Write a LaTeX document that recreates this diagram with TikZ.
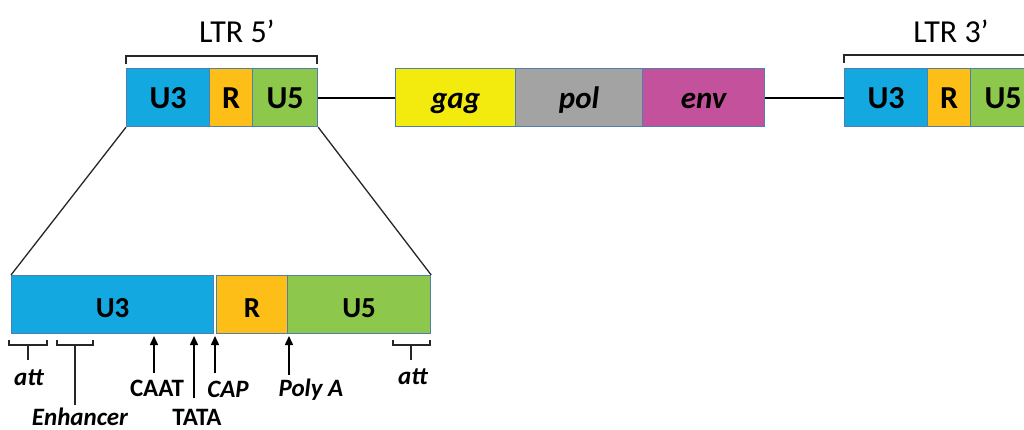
\documentclass[tikz,border=0pt]{standalone}
\usepackage{fontspec}
\setmainfont{Carlito}
\usetikzlibrary{arrows.meta}
\definecolor{cuthree}{HTML}{14A8E0}
\definecolor{cr}{HTML}{FDBF17}
\definecolor{cufive}{HTML}{8DC74B}
\definecolor{cgag}{HTML}{F3EB0E}
\definecolor{cpol}{HTML}{A3A3A3}
\definecolor{cenv}{HTML}{C4519C}
\definecolor{cedge}{HTML}{4F7FAF}
\tikzset{
  box/.style={draw=cedge, line width=1.2pt, anchor=north west, inner sep=0pt, text depth=0pt},
  topbox/.style={box, minimum height=58pt, text height=22pt, font=\fontsize{32}{38}\selectfont\bfseries},
  genebox/.style={box, minimum height=58pt, text height=22pt, font=\fontsize{31}{37}\selectfont\bfseries\itshape},
  botbox/.style={box, minimum height=58pt, text height=26pt, font=\fontsize{29}{35}\selectfont\bfseries},
  ltrlabel/.style={font=\fontsize{32}{38}\selectfont, inner sep=0pt},
  lab/.style={font=\fontsize{25}{30}\selectfont\bfseries\itshape, anchor=base, inner sep=0pt},
  labr/.style={font=\fontsize{25}{30}\selectfont\bfseries, anchor=base, inner sep=0pt},
  link/.style={line width=2pt, black},
  brk/.style={line width=1.3pt, black!85},
  arr/.style={line width=1.5pt, black, -{Triangle[length=9pt,width=8pt]}},
}
\begin{document}
\begin{tikzpicture}[x=1pt,y=-1pt]
\useasboundingbox (0,0) rectangle (1024,430);
\clip (0,0) rectangle (1024,430);
% LTR 5'
\node[topbox, fill=cuthree, minimum width=83pt] (ua3) at (126,68) {U3};
\node[topbox, fill=cr, minimum width=43pt] (ra) at (209,68) {R};
\node[topbox, fill=cufive, minimum width=65pt] (ua5) at (252,68) {U5};
\node[ltrlabel] (ltr5) at (237,31) {LTR 5’};
\draw[brk] (126,64) -- (126,56) -- (317,56) -- (317,64);
% genes
\node[genebox, fill=cgag, minimum width=120pt] (gag) at (395,68) {gag};
\node[genebox, fill=cpol, minimum width=127pt] (pol) at (515,68) {pol};
\node[genebox, fill=cenv, minimum width=122pt] (env) at (642,68) {env};
% LTR 3'
\node[topbox, fill=cuthree, minimum width=83pt] (uc3) at (844,68) {U3};
\node[topbox, fill=cr, minimum width=43pt] (rc) at (927,68) {R};
\node[topbox, fill=cufive, minimum width=65pt] (uc5) at (970,68) {U5};
\node[ltrlabel] (ltr3) at (951,31) {LTR 3’};
\draw[brk] (844,63) -- (844,55) -- (1040,55);
% links
\draw[link] (ua5.east) -- (gag.west);
\draw[link] (env.east) -- (uc3.west);
% expanded LTR
\node[botbox, fill=cuthree, minimum width=202pt] (ub3) at (11,275) {U3};
\node[botbox, fill=cr, minimum width=71pt] (rb) at (216,275) {R};
\node[botbox, fill=cufive, minimum width=143pt] (ub5) at (287,275) {U5};
\draw[brk] (ua3.south west) -- (ub3.north west);
\draw[brk] (ua5.south east) -- (ub5.north east);
% brackets below
\draw[brk] (9,340) -- (9,345) -- (47,345) -- (47,340);
\draw[brk] (28,345) -- (28,360);
\draw[brk] (57,340) -- (57,345) -- (93,345) -- (93,340);
\draw[brk] (75,345) -- (75,405);
\draw[brk] (393,340) -- (393,345) -- (430,345) -- (430,340);
\draw[brk] (411,345) -- (411,360);
% labels
\node[lab] (attl) at (29,385) {att};
\node[lab] (enh) at (80,425) {Enhancer};
\node[labr] (caat) at (157,396) {CAAT};
\node[labr] (tata) at (197,425) {TATA};
\node[lab] (cap) at (228,397) {CAP};
\node[lab] (polya) at (311,396) {Poly A};
\node[lab] (attr) at (413,384) {att};
% arrows
\coordinate (caatT) at (154,336);
\coordinate (tataT) at (194,336);
\coordinate (capT) at (215,336);
\coordinate (polyT) at (289,336);
\draw[arr] (154,373) -- (caatT);
\draw[arr] (194,398) -- (tataT);
\draw[arr] (215,373) -- (capT);
\draw[arr] (289,375) -- (polyT);
\end{tikzpicture}
\end{document}
